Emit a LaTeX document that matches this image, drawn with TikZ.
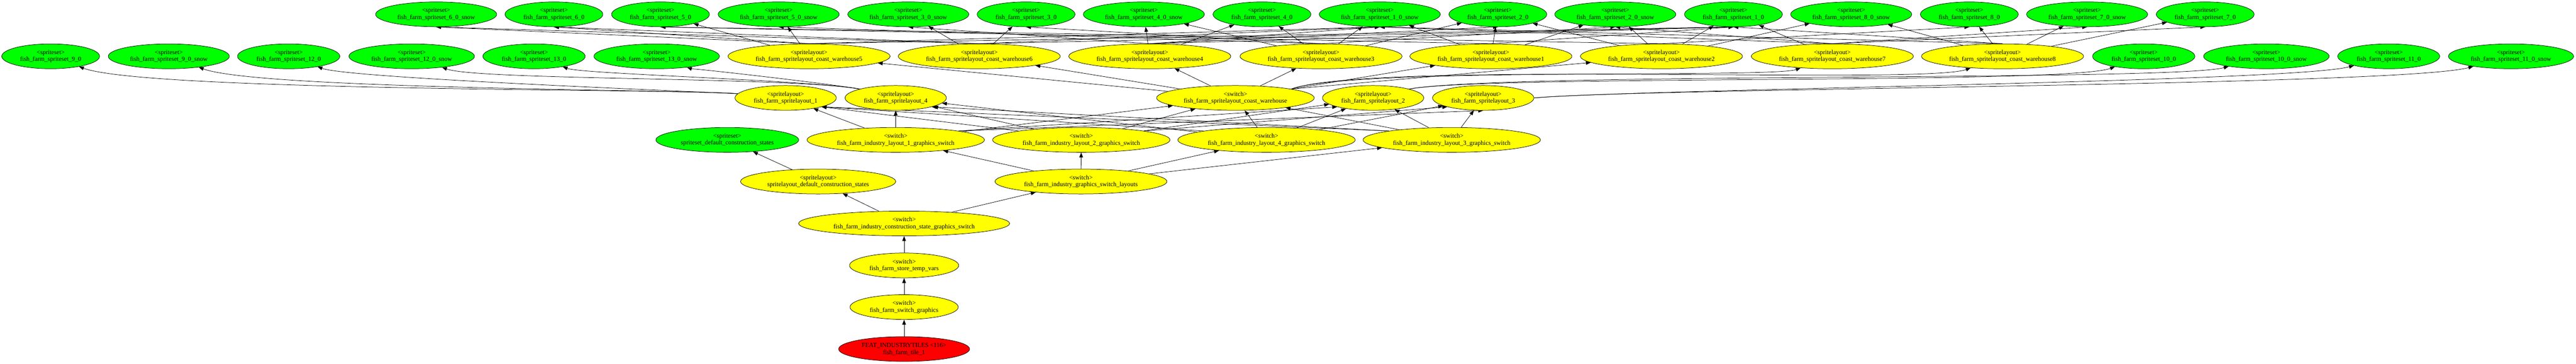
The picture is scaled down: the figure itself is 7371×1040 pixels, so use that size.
\documentclass[tikz,border=0pt]{standalone}
\usepackage{fontspec}
\setmainfont{Liberation Serif}
\usetikzlibrary{shapes.geometric, arrows.meta}
\pgfdeclarelayer{bg}
\pgfdeclarelayer{edges}
\pgfsetlayers{bg,edges,main}
\definecolor{ssgreen}{RGB}{0,255,0}
\definecolor{slyellow}{RGB}{255,255,0}
\definecolor{ftred}{RGB}{255,0,0}
\tikzstyle{arrow} = [line width=1.1pt, -{Triangle[length=14pt, width=10.5pt]}]
\tikzstyle{block} = [ellipse, draw=black, line width=1.1pt, minimum height=71pt, inner xsep=11.5pt, inner ysep=2pt, align=center, font=\fontsize{18}{20}\selectfont]
\tikzstyle{sset} = [block, fill=ssgreen]
\tikzstyle{sitem} = [block, fill=slyellow]
\tikzstyle{feat} = [block, fill=ftred]

\begin{document}
\begin{tikzpicture}[x=1pt, y=1pt]
		\begin{pgfonlayer}{bg}
		\fill[white] (0,0) rectangle (7371,-1040);
		\end{pgfonlayer}
		\useasboundingbox (0,0) rectangle (7371,-1040);
		% top row of spritesets
		\node(s6s) [sset] at (1248,-41) {<spriteset>\\fish\_farm\_spriteset\_6\_0\_snow};
		\node(s6) [sset] at (1585,-41) {<spriteset>\\fish\_farm\_spriteset\_6\_0};
		\node(s5) [sset] at (1890,-41) {<spriteset>\\fish\_farm\_spriteset\_5\_0};
		\node(s5s) [sset] at (2228,-41) {<spriteset>\\fish\_farm\_spriteset\_5\_0\_snow};
		\node(s3s) [sset] at (2599,-41) {<spriteset>\\fish\_farm\_spriteset\_3\_0\_snow};
		\node(s3) [sset] at (2936,-41) {<spriteset>\\fish\_farm\_spriteset\_3\_0};
		\node(s4s) [sset] at (3273,-41) {<spriteset>\\fish\_farm\_spriteset\_4\_0\_snow};
		\node(s4) [sset] at (3611,-41) {<spriteset>\\fish\_farm\_spriteset\_4\_0};
		\node(s1s) [sset] at (3948,-41) {<spriteset>\\fish\_farm\_spriteset\_1\_0\_snow};
		\node(s2) [sset] at (4286,-41) {<spriteset>\\fish\_farm\_spriteset\_2\_0};
		\node(s2s) [sset] at (4622,-41) {<spriteset>\\fish\_farm\_spriteset\_2\_0\_snow};
		\node(s1) [sset] at (4960,-41) {<spriteset>\\fish\_farm\_spriteset\_1\_0};
		\node(s8s) [sset] at (5297,-41) {<spriteset>\\fish\_farm\_spriteset\_8\_0\_snow};
		\node(s8) [sset] at (5635,-41) {<spriteset>\\fish\_farm\_spriteset\_8\_0};
		\node(s7s) [sset] at (5972,-41) {<spriteset>\\fish\_farm\_spriteset\_7\_0\_snow};
		\node(s7) [sset] at (6310,-41) {<spriteset>\\fish\_farm\_spriteset\_7\_0};
		% second row
		\node(s9) [sset] at (145,-161) {<spriteset>\\fish\_farm\_spriteset\_9\_0};
		\node(s9s) [sset] at (483,-161) {<spriteset>\\fish\_farm\_spriteset\_9\_0\_snow};
		\node(s12) [sset] at (826,-161) {<spriteset>\\fish\_farm\_spriteset\_12\_0};
		\node(s12s) [sset] at (1178,-161) {<spriteset>\\fish\_farm\_spriteset\_12\_0\_snow};
		\node(s13) [sset] at (1528,-161) {<spriteset>\\fish\_farm\_spriteset\_13\_0};
		\node(s13s) [sset] at (1879,-161) {<spriteset>\\fish\_farm\_spriteset\_13\_0\_snow};
		\node(w5) [sitem] at (2315,-161) {<spritelayout>\\fish\_farm\_spritelayout\_coast\_warehouse5};
		\node(w6) [sitem] at (2802,-161) {<spritelayout>\\fish\_farm\_spritelayout\_coast\_warehouse6};
		\node(w4) [sitem] at (3290,-161) {<spritelayout>\\fish\_farm\_spritelayout\_coast\_warehouse4};
		\node(w3) [sitem] at (3780,-161) {<spritelayout>\\fish\_farm\_spritelayout\_coast\_warehouse3};
		\node(w1) [sitem] at (4266,-161) {<spritelayout>\\fish\_farm\_spritelayout\_coast\_warehouse1};
		\node(w2) [sitem] at (4754,-161) {<spritelayout>\\fish\_farm\_spritelayout\_coast\_warehouse2};
		\node(w7) [sitem] at (5243,-161) {<spritelayout>\\fish\_farm\_spritelayout\_coast\_warehouse7};
		\node(w8) [sitem] at (5730,-161) {<spritelayout>\\fish\_farm\_spritelayout\_coast\_warehouse8};
		\node(s10) [sset] at (6134,-161) {<spriteset>\\fish\_farm\_spriteset\_10\_0};
		\node(s10s) [sset] at (6485,-161) {<spriteset>\\fish\_farm\_spriteset\_10\_0\_snow};
		\node(s11) [sset] at (6835,-161) {<spriteset>\\fish\_farm\_spriteset\_11\_0};
		\node(s11s) [sset] at (7185,-161) {<spriteset>\\fish\_farm\_spriteset\_11\_0\_snow};
		% spritelayouts
		\node(sl1) [sitem] at (2248,-280) {<spritelayout>\\fish\_farm\_spritelayout\_1};
		\node(sl4) [sitem] at (2563,-280) {<spritelayout>\\fish\_farm\_spritelayout\_4};
		\node(whsw) [sitem] at (3535,-280) {<switch>\\fish\_farm\_spritelayout\_coast\_warehouse};
		\node(sl2) [sitem] at (3929,-280) {<spritelayout>\\fish\_farm\_spritelayout\_2};
		\node(sl3) [sitem] at (4244,-280) {<spritelayout>\\fish\_farm\_spritelayout\_3};
		% switches
		\node(ssdef) [sset] at (2081,-400) {<spriteset>\\spriteset\_default\_construction\_states};
		\node(il1) [sitem] at (2563,-400) {<switch>\\fish\_farm\_industry\_layout\_1\_graphics\_switch};
		\node(il2) [sitem] at (3094,-400) {<switch>\\fish\_farm\_industry\_layout\_2\_graphics\_switch};
		\node(il4) [sitem] at (3624,-400) {<switch>\\fish\_farm\_industry\_layout\_4\_graphics\_switch};
		\node(il3) [sitem] at (4154,-400) {<switch>\\fish\_farm\_industry\_layout\_3\_graphics\_switch};
		\node(sldef) [sitem] at (2341,-519) {<spritelayout>\\spritelayout\_default\_construction\_states};
		\node(igsl) [sitem] at (3093,-519) {<switch>\\fish\_farm\_industry\_graphics\_switch\_layouts};
		\node(icsg) [sitem] at (2587,-639) {<switch>\\fish\_farm\_industry\_construction\_state\_graphics\_switch};
		\node(stv) [sitem] at (2587,-759) {<switch>\\fish\_farm\_store\_temp\_vars};
		\node(sg) [sitem] at (2587,-878) {<switch>\\fish\_farm\_switch\_graphics};
		\node(tile) [feat] at (2587,-998) {FEAT\_INDUSTRYTILES <116>\\fish\_farm\_tile\_1};
		\begin{pgfonlayer}{edges}
		\draw [arrow] (tile) -- (sg);
		\draw [arrow] (sg) -- (stv);
		\draw [arrow] (stv) -- (icsg);
		\draw [arrow] (icsg) -- (sldef);
		\draw [arrow] (icsg) -- (igsl);
		\draw [arrow] (sldef) -- (ssdef);
		\draw [arrow] (igsl) -- (il1);
		\draw [arrow] (igsl) -- (il2);
		\draw [arrow] (igsl) -- (il4);
		\draw [arrow] (igsl) -- (il3);
		% layout switches to spritelayouts
		\draw [arrow] (il1) -- (sl1);
		\draw [arrow] (il1) -- (sl4);
		\draw [arrow] (il1) -- (whsw);
		\draw [arrow] (il1.north east) -- (sl2.south west);
		\draw [arrow] (il1.north east) -- (sl3.south);
		\draw [arrow] (il2.north west) -- (sl1.south east);
		\draw [arrow] (il2) -- (sl4);
		\draw [arrow] (il2) -- (whsw);
		\draw [arrow] (il2) -- (sl2);
		\draw [arrow] (il2.north east) -- (sl3.south west);
		\draw [arrow] (il4.north west) -- (sl1.south east);
		\draw [arrow] (il4) -- (sl4);
		\draw [arrow] (il4) -- (whsw);
		\draw [arrow] (il4) -- (sl2);
		\draw [arrow] (il4) -- (sl3);
		\draw [arrow] (il3.north west) -- (sl1.south east);
		\draw [arrow] (il3.north west) -- (sl4.south east);
		\draw [arrow] (il3) -- (whsw);
		\draw [arrow] (il3) -- (sl2);
		\draw [arrow] (il3) -- (sl3);
		% coast warehouse switch
		\draw [arrow] (whsw) -- (w5);
		\draw [arrow] (whsw) -- (w6);
		\draw [arrow] (whsw) -- (w4);
		\draw [arrow] (whsw) -- (w3);
		\draw [arrow] (whsw.north east) -- (w1);
		\draw [arrow] (whsw.north east) -- (w2);
		\draw [arrow] (whsw.north east) .. controls +(172,63) and +(-172,-63) .. (w7);
		\draw [arrow] (whsw.north east) .. controls +(225,82) and +(-225,-82) .. (w8);
		% spritelayouts to spritesets
		\draw [arrow] (sl1) .. controls +(-295,26) and +(278,-101) .. (s9);
		\draw [arrow] (sl1) .. controls +(-276,24) and +(260,-95) .. (s9s);
		\draw [arrow] (sl1) .. controls +(-187,16) and +(177,-64) .. (s12);
		\draw [arrow] (sl4.north west) .. controls +(-199,35) and +(190,-69) .. (s12s);
		\draw [arrow] (sl4.north west) .. controls +(-147,26) and +(140,-51) .. (s13);
		\draw [arrow] (sl4.north west) .. controls +(-93,16) and +(88,-32) .. (s13s);
		\draw [arrow] (sl2.north east) .. controls +(233,41) and +(-223,-81) .. (s10);
		\draw [arrow] (sl2.north east) .. controls +(274,48) and +(-269,-72) .. (s10s);
		\draw [arrow] (sl3.east) .. controls +(287,25) and +(-278,-74) .. (s11);
		\draw [arrow] (sl3.east) .. controls +(328,29) and +(-318,-85) .. (s11s);
		% coast warehouses to spritesets
		\draw [arrow] (w5.north) -- (s6s.south);
		\draw [arrow] (w5.north) -- (s6.south);
		\draw [arrow] (w5) -- (s5);
		\draw [arrow] (w5) -- (s5s);
		\draw [arrow] (w5.north) -- (s1s.south);
		\draw [arrow] (w5.north) -- (s1.south);
		\draw [arrow] (w6) -- (s3s);
		\draw [arrow] (w6) -- (s3);
		\draw [arrow] (w6.north) -- (s6s.south);
		\draw [arrow] (w6.north) -- (s6.south);
		\draw [arrow] (w6.north) -- (s1s.south);
		\draw [arrow] (w6.north) -- (s1.south);
		\draw [arrow] (w4) -- (s4s);
		\draw [arrow] (w4) -- (s4);
		\draw [arrow] (w4.north) -- (s3s.south);
		\draw [arrow] (w4.north) -- (s1s.south);
		\draw [arrow] (w4.north) -- (s1.south);
		\draw [arrow] (w4.north) -- (s2.south);
		\draw [arrow] (w3.north) -- (s3.south);
		\draw [arrow] (w3) -- (s4s);
		\draw [arrow] (w3) -- (s4);
		\draw [arrow] (w3) -- (s1s);
		\draw [arrow] (w3) -- (s2);
		\draw [arrow] (w3.north) -- (s2s.south);
		\draw [arrow] (w3.north) -- (s5s.south);
		\draw [arrow] (w1) -- (s1s);
		\draw [arrow] (w1) -- (s2);
		\draw [arrow] (w1) -- (s2s);
		\draw [arrow] (w1.north) -- (s1.south);
		\draw [arrow] (w1.north) -- (s5.south);
		\draw [arrow] (w2) -- (s2);
		\draw [arrow] (w2) -- (s2s);
		\draw [arrow] (w2) -- (s1);
		\draw [arrow] (w2) -- (s8s);
		\draw [arrow] (w2.north) -- (s8.south);
		\draw [arrow] (w2.north) -- (s5.south);
		\draw [arrow] (w7.north) -- (s1s.south);
		\draw [arrow] (w7) -- (s1);
		\draw [arrow] (w7.north) -- (s7s.south);
		\draw [arrow] (w7.north) -- (s7.south);
		\draw [arrow] (w7.north) -- (s2s.south);
		\draw [arrow] (w8) -- (s8s);
		\draw [arrow] (w8) -- (s8);
		\draw [arrow] (w8) -- (s7s);
		\draw [arrow] (w8) -- (s7);
		\draw [arrow] (w8.north) -- (s1.south);
		\draw [arrow] (w8.north) -- (s1s.south);
		\end{pgfonlayer}
	\end{tikzpicture}
\end{document}
